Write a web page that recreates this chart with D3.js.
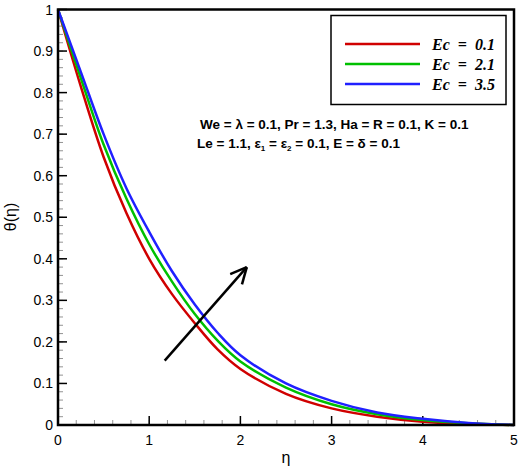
<!DOCTYPE html><html><head><script src="https://d3js.org/d3.v7.min.js"></script>
<style>body{margin:0;background:#fff}text{font-family:Arial,"Liberation Sans",sans-serif}</style></head><body>
<svg id="c" width="520" height="467"></svg>
<script>
const xs=[0,0.25,0.5,0.75,1,1.25,1.5,1.75,2,2.5,3,3.5,4,4.5,5];
const red=[1,0.815,0.645,0.51,0.40,0.315,0.245,0.182,0.135,0.075,0.04,0.02,0.008,0.003,0];
const green=[1,0.835,0.675,0.545,0.435,0.345,0.267,0.203,0.153,0.09,0.05,0.026,0.012,0.004,0];
const blue=[1,0.85,0.70,0.57,0.465,0.37,0.29,0.222,0.168,0.1,0.058,0.03,0.015,0.005,0];
const labels=["Ec = 0.1","Ec = 2.1","Ec = 3.5"];
const colors=["#d00000","#00c000","#2020ff"];
const xTicks=[0,1,2,3,4,5], yTicks=[0,0.1,0.2,0.3,0.4,0.5,0.6,0.7,0.8,0.9,1];
const svg=d3.select("#c");
const x=d3.scaleLinear().domain([0,5]).range([58,514]);
const y=d3.scaleLinear().domain([0,1]).range([425,9.5]);
const g=svg.append("g");
const minorY=d3.range(0,1.0001,0.02), minorX=d3.range(0,5.0001,0.2);
g.selectAll(".my").data(minorY).join("line").attr("x1",x(0)).attr("x2",x(0)+5).attr("y1",d=>y(d)).attr("y2",d=>y(d)).attr("stroke","#777").attr("stroke-width",0.8);
g.selectAll(".mx").data(minorX).join("line").attr("y1",y(0)).attr("y2",y(0)-5).attr("x1",d=>x(d)).attr("x2",d=>x(d)).attr("stroke","#777").attr("stroke-width",0.8);
g.selectAll(".ty").data(yTicks).join("line").attr("x1",x(0)).attr("x2",x(0)+9).attr("y1",d=>y(d)).attr("y2",d=>y(d)).attr("stroke","#000").attr("stroke-width",1.5);
g.selectAll(".tx").data(xTicks).join("line").attr("y1",y(0)).attr("y2",y(0)-9).attr("x1",d=>x(d)).attr("x2",d=>x(d)).attr("stroke","#000").attr("stroke-width",1.5);
g.selectAll(".ly").data(yTicks).join("text").attr("x",x(0)-5).attr("y",d=>y(d)+5).attr("text-anchor","end").attr("font-size",14).text(d=>d3.format("~g")(d));
g.selectAll(".lx").data(xTicks).join("text").attr("x",d=>x(d)).attr("y",y(0)+20).attr("text-anchor","middle").attr("font-size",14).text(d=>d);
svg.append("text").attr("x",286).attr("y",463).attr("text-anchor","middle").attr("font-size",16).text("η");
svg.append("text").attr("transform","translate(16,217) rotate(-90)").attr("text-anchor","middle").attr("font-size",16).text("θ(η)");
const line=d3.line().x((d,i)=>x(xs[i])).y(d=>y(d)).curve(d3.curveCatmullRom.alpha(0.5));
[red,green,blue].forEach((s,i)=>svg.append("path").attr("d",line(s)).attr("fill","none").attr("stroke",colors[i]).attr("stroke-width",2.5));
svg.append("rect").attr("x",x(0)).attr("y",y(1)).attr("width",x(5)-x(0)).attr("height",y(0)-y(1)).attr("fill","none").attr("stroke","#000").attr("stroke-width",2.5);
svg.append("rect").attr("x",331).attr("y",15.5).attr("width",175).attr("height",89).attr("fill","#fff").attr("stroke","#000").attr("stroke-width",1.5);
labels.forEach((l,i)=>{const yy=44+i*20;
 svg.append("line").attr("x1",345).attr("x2",420).attr("y1",yy).attr("y2",yy).attr("stroke",colors[i]).attr("stroke-width",2.5);
 svg.append("text").attr("x",432).attr("y",yy+6).style("font-family","'Liberation Serif','Times New Roman',serif").attr("font-style","italic").attr("font-weight","bold").attr("font-size",16).attr("xml:space","preserve").text(l.replace(/ = /,"  =  "));});
svg.append("text").attr("x",200).attr("y",129).attr("font-weight","bold").attr("font-size",13.5).text("We = λ = 0.1, Pr = 1.3, Ha = R = 0.1, K = 0.1");
const t2=svg.append("text").attr("x",197).attr("y",148).attr("font-weight","bold").attr("font-size",13.5);
t2.append("tspan").text("Le = 1.1, ε");t2.append("tspan").attr("font-size",8).attr("dy",3).text("1");
t2.append("tspan").attr("dy",-3).text(" = ε");t2.append("tspan").attr("font-size",8).attr("dy",3).text("2");
t2.append("tspan").attr("dy",-3).text(" = 0.1,  E = δ = 0.1");
const ax0=x(1.17),ay0=y(0.155),ax1=x(2.07),ay1=y(0.38);
svg.append("line").attr("x1",ax0).attr("y1",ay0).attr("x2",ax1).attr("y2",ay1).attr("stroke","#000").attr("stroke-width",2.5);
const ang=Math.atan2(ay1-ay0,ax1-ax0);
[0.45,-0.45].forEach(a=>svg.append("line").attr("x1",ax1).attr("y1",ay1).attr("x2",ax1-18*Math.cos(ang+a)).attr("y2",ay1-18*Math.sin(ang+a)).attr("stroke","#000").attr("stroke-width",2.5));
</script></body></html>
